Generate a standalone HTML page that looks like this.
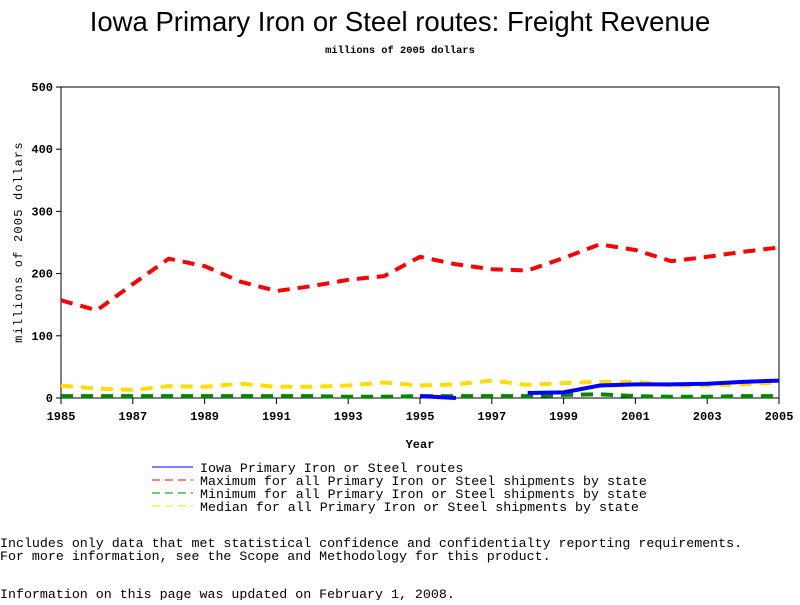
<!DOCTYPE html>
<html><head><meta charset="utf-8"><style>
body{margin:0;background:#fff;width:800px;height:600px;overflow:hidden;font-family:"Liberation Sans",sans-serif}
svg text{font-family:"Liberation Mono",monospace;font-size:12px;font-weight:bold}
</style></head><body>
<svg id="c" width="800" height="600">
<text x="400" y="31" text-anchor="middle" style="font-family:'Liberation Sans',sans-serif;font-size:27.5px;font-weight:normal">Iowa Primary Iron or Steel routes: Freight Revenue</text>
<text x="400" y="53" text-anchor="middle" style="font-size:10.4px">millions of 2005 dollars</text>
<rect x="61" y="87" width="718" height="311" fill="none" stroke="#000"/>
<g id="axes"></g><g id="series"></g>
<text x="420" y="448" text-anchor="middle">Year</text>
<text transform="translate(22,242) rotate(-90)" text-anchor="middle" style="font-weight:normal;font-size:12px;letter-spacing:1.2px">millions of 2005 dollars</text>
<g style="font-size:13.3px">
<line x1="152" y1="467" x2="193" y2="467" stroke="#00f"/>
<text x="200" y="472" style="font-size:13.3px;font-weight:normal">Iowa Primary Iron or Steel routes</text>
<line x1="152" y1="480" x2="193" y2="480" stroke="#f00" stroke-dasharray="8,5"/>
<text x="200" y="485" style="font-size:13.3px;font-weight:normal">Maximum for all Primary Iron or Steel shipments by state</text>
<line x1="152" y1="493" x2="193" y2="493" stroke="#080" stroke-dasharray="8,5"/>
<text x="200" y="498" style="font-size:13.3px;font-weight:normal">Minimum for all Primary Iron or Steel shipments by state</text>
<line x1="152" y1="506" x2="193" y2="506" stroke="#fd0" stroke-dasharray="8,5"/>
<text x="200" y="511" style="font-size:13.3px;font-weight:normal">Median for all Primary Iron or Steel shipments by state</text>
</g>
<text x="0" y="547" style="font-weight:normal;font-size:13.3px">Includes only data that met statistical confidence and confidentialty reporting requirements.</text>
<text x="0" y="560" style="font-weight:normal;font-size:13.3px">For more information, see the Scope and Methodology for this product.</text>
<text x="0" y="598" style="font-weight:normal;font-size:13.3px">Information on this page was updated on February 1, 2008.</text>
</svg>
<script>
const years=[1985,1986,1987,1988,1989,1990,1991,1992,1993,1994,1995,1996,1997,1998,1999,2000,2001,2002,2003,2004,2005];
const iowa=[null,null,null,null,null,null,null,null,null,null,3,0,null,8,9,20,22,22,23,26,28];
const maxV=[157,141,183,224,212,187,172,180,190,196,227,215,207,205,225,247,238,220,227,235,242];
const minV=[3,3,3,3,3,3,3,3,2,2,3,3,3,3,5,6,3,2,2,3,3];
const medV=[20,15,13,19,18,23,18,18,20,25,20,22,28,21,24,26,26,20,20,22,25];
const yTicks=[0,100,200,300,400,500];
const xTicks=[1985,1987,1989,1991,1993,1995,1997,1999,2001,2003,2005];
const X=y=>61+(y-1985)*(718/20), Y=v=>398-v*(311/500);
const NS="http://www.w3.org/2000/svg";
const ax=document.getElementById('axes'), se=document.getElementById('series');
function mk(tag,attrs,parent){const e=document.createElementNS(NS,tag);for(const k in attrs)e.setAttribute(k,attrs[k]);parent.appendChild(e);return e;}
yTicks.forEach(t=>{
 const l=mk('line',{x1:56,x2:61,y1:Y(t),y2:Y(t),stroke:'#000'},ax);
 
 
 const tx=mk('text',{x:53,y:Y(t)+4,'text-anchor':'end'},ax);tx.textContent=t;
 
 
});
xTicks.forEach(t=>{
 const l=mk('line',{x1:X(t),x2:X(t),y1:398,y2:404,stroke:'#000'},ax);
 
 
 const tx=mk('text',{x:X(t),y:420,'text-anchor':'middle'},ax);tx.textContent=t;
 
 
});
function draw(vals,color,dash,w,name){
 let segs=[],cur=[];
 vals.forEach((v,i)=>{if(v==null){if(cur.length)segs.push(cur);cur=[];}else cur.push(X(years[i])+','+Y(v));});
 if(cur.length)segs.push(cur);
 segs.forEach(s=>{
  const p=mk('polyline',{points:s.join(' '),fill:'none',stroke:color,'stroke-width':w,'stroke-dasharray':dash,'stroke-linejoin':'round'},se);
  
  
 });
}
draw(medV,'#fd0','12,8',4,'median-line');
draw(minV,'#080','12,8',4,'minimum-line');
draw(maxV,'#f00','12,8',4,'maximum-line');
draw(iowa,'#00f','none',4,'iowa-line');
</script>
</body></html>
